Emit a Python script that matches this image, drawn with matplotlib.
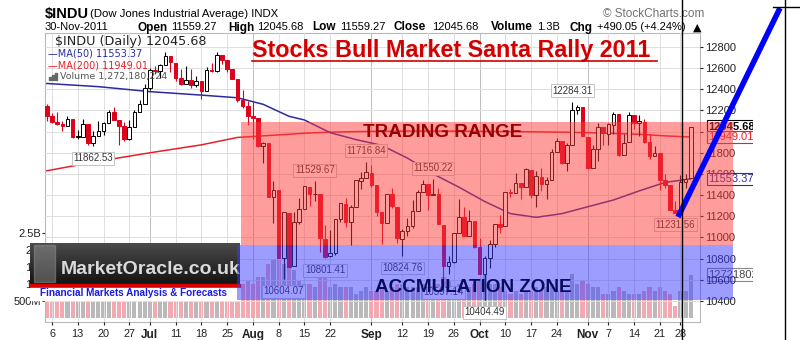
import numpy as np
import pandas as pd
import matplotlib
matplotlib.use('Agg')
import matplotlib.pyplot as plt
from matplotlib.patches import Rectangle
from matplotlib.lines import Line2D
from matplotlib.colors import LinearSegmentedColormap
from matplotlib.transforms import Bbox, blended_transform_factory

plt.rcParams['font.family'] = ['Liberation Sans', 'DejaVu Sans']

# Dow Jones Industrial Average, daily bars 3 Jun - 30 Nov 2011
holidays = ['2011-07-04', '2011-09-05', '2011-11-24']
dates = pd.bdate_range('2011-06-03', '2011-11-30')
dates = dates[~dates.isin(pd.to_datetime(holidays))]

opens = [12245, 12151, 12090, 12069, 12049, 12123, 11953, 11953, 12075, 11897,
         11962, 12003, 12080, 12188, 12109, 12050, 11935, 12043, 12189, 12262,
         12414, 12582, 12569, 12626, 12714, 12651, 12505, 12447, 12491, 12438,
         12479, 12385, 12587, 12572, 12723, 12680, 12593, 12500, 12302, 12239,
         12144, 12130, 11866, 11894, 11384, 11445, 10810, 11229, 10729, 11144,
         11270, 11479, 11407, 11407, 10986, 10820, 10854, 11177, 11318, 11149,
         11285, 11537, 11561, 11613, 11492, 11239, 11141, 11414, 11292, 10990,
         11061, 11105, 11247, 11433, 11508, 11402, 11409, 11121, 10731, 10770,
         11043, 11191, 11010, 11152, 10912, 10650, 10803, 10939, 11124, 11104,
         11431, 11418, 11518, 11479, 11642, 11398, 11575, 11505, 11544, 11807,
         11912, 11708, 11875, 12204, 12228, 11950, 11659, 11836, 12042, 11982,
         12067, 12163, 11781, 11900, 12154, 12079, 12094, 11905, 11770, 11794,
         11546, 11492, 11257, 11232, 11523, 11559.27]
highs = [12264, 12180, 12186, 12101, 12148, 12124, 12017, 12120, 12075, 12009,
         12097, 12094, 12206, 12228, 12110, 12090, 12108, 12201, 12300, 12450,
         12600, 12620, 12643, 12753, 12719, 12651, 12594, 12621, 12596, 12522,
         12479, 12609, 12645, 12751, 12723, 12680, 12593, 12500, 12393, 12293,
         12284, 12130, 11904, 11894, 11537, 11445, 11244, 11229, 11243, 11370,
         11489, 11480, 11529.67, 11407, 11122, 11067, 11177, 11326, 11373, 11305,
         11539, 11620, 11716.84, 11687, 11492, 11239, 11415, 11463, 11292, 11082,
         11183, 11351, 11444, 11545, 11508, 11550.22, 11463, 11121, 10829, 11044,
         11362, 11290, 11264, 11152, 10992, 10827, 10974, 11124, 11209, 11433,
         11461, 11610, 11518, 11652, 11642, 11630, 11656, 11568, 11835, 11938,
         11912, 11888, 12284.31, 12252, 12228, 11950, 11874, 12085, 12042, 12079,
         12181, 12163, 11978, 12188, 12154, 12157, 12118, 11982, 11867, 11794,
         11596, 11492, 11341, 11587, 11597, 12045.68]
lows = [12097, 12083, 12066, 12009, 12049, 11942, 11934, 11953, 11869, 11862.53,
        11962, 11967, 12080, 12109, 11874, 11916, 11924, 12043, 12189, 12262,
        12393, 12545, 12510, 12626, 12566, 12476, 12439, 12447, 12409, 12425,
        12313, 12385, 12564, 12560, 12638, 12563, 12501, 12283, 12225, 12067,
        11935, 11850, 11700, 11384, 11140, 10810, 10604.07, 10720, 10729, 11131,
        11270, 11296, 11340, 10867, 10801.41, 10813, 10835, 11146, 11101, 10929,
        11285, 11454, 11561, 11478, 11205, 10934, 11141, 11276, 10947, 10824.76,
        11015, 11085, 11247, 11433, 11263, 11400, 11124, 10597.14, 10654, 10757,
        11043, 11010, 11010, 10897, 10655, 10404.49, 10715, 10911, 11046, 11104,
        11383, 11418, 11366, 11479, 11377, 11290, 11439, 11362, 11544, 11807,
        11692, 11627, 11875, 12163, 11955, 11651, 11659, 11723, 11869, 11878,
        11973, 11770, 11781, 11900, 12027, 11958, 11893, 11743, 11765, 11448,
        11471, 11257, 11231.56, 11232, 11472, 11559.27]
closes = [12151, 12090, 12071, 12049, 12124, 11952, 11953, 12076, 11897, 11962,
          12004, 12080, 12190, 12110, 12050, 11935, 12044, 12189, 12261, 12414,
          12583, 12570, 12626, 12719, 12657, 12506, 12447, 12492, 12437, 12480,
          12385, 12587, 12572, 12724, 12681, 12593, 12501, 12303, 12240, 12143,
          12132, 11867, 11896, 11384, 11445, 10810, 11240, 10720, 11143, 11269,
          11483, 11406, 11410, 10991, 10818, 10855, 11177, 11321, 11150, 11285,
          11539, 11560, 11614, 11494, 11240, 11139, 11415, 11296, 10992, 11061,
          11106, 11247, 11433, 11509, 11401, 11409, 11125, 10734, 10771, 11044,
          11191, 11011, 11154, 10913, 10655, 10809, 10940, 11123, 11103, 11433,
          11416, 11519, 11478, 11644, 11397, 11577, 11505, 11542, 11809, 11914,
          11707, 11869, 12209, 12231, 11955, 11658, 11836, 12044, 11983, 12068,
          12170, 11781, 11894, 12154, 12079, 12096, 11906, 11771, 11796, 11547,
          11494, 11258, 11232, 11523, 11556, 12045.68]
volume_bn = [0.9, 0.9, 0.9, 0.9, 0.9, 1.0, 0.8, 0.8, 1.0, 1.0,
             1.2, 0.8, 0.8, 0.8, 1.0, 1.1, 0.8, 0.9, 0.9, 1.0,
             0.8, 0.7, 0.8, 0.8, 0.8, 0.9, 0.9, 0.8, 0.9, 0.9,
             0.9, 0.8, 0.8, 0.9, 0.8, 0.8, 0.9, 1.0, 1.0, 1.1,
             1.0, 1.2, 1.2, 1.6, 1.7, 1.8, 1.6, 1.5, 1.4, 1.1,
             1.0, 1.0, 0.9, 1.3, 1.2, 0.9, 1.0, 0.9, 0.9, 0.9,
             0.7, 0.8, 0.9, 0.8, 0.8, 0.9, 0.8, 0.9, 1.0, 1.0,
             0.9, 0.9, 0.9, 1.0, 0.9, 0.9, 1.0, 1.2, 1.1, 0.9,
             1.0, 0.9, 0.9, 1.0, 1.1, 1.3, 1.0, 1.0, 0.9, 0.8,
             0.7, 0.8, 0.7, 0.8, 0.8, 0.9, 0.8, 0.9, 1.0, 0.8,
             0.8, 0.8, 1.3, 1.0, 1.1, 1.0, 0.9, 0.9, 0.7, 0.7,
             0.8, 0.9, 0.8, 0.7, 0.7, 0.7, 0.8, 0.9, 0.8, 0.9,
             0.8, 0.7, 0.35, 0.8, 0.8, 1.272180224]

# moving averages read at weekly points
ma_dates = ['2011-06-03', '2011-06-17', '2011-07-01', '2011-07-18', '2011-07-27',
            '2011-08-03', '2011-08-10', '2011-08-15', '2011-08-22', '2011-08-29',
            '2011-09-06', '2011-09-13', '2011-09-20', '2011-09-27', '2011-10-04',
            '2011-10-11', '2011-10-18', '2011-10-25', '2011-11-01', '2011-11-08',
            '2011-11-15', '2011-11-22', '2011-11-30']
ma50 = [12455, 12425, 12378, 12345, 12320, 12258, 12145, 12110, 11990, 11925,
        11870, 11750, 11600, 11475, 11340, 11225, 11190, 11225, 11290, 11354,
        11440, 11520, 11553.37]
ma200 = [11630, 11720, 11800, 11875, 11945, 11960, 11975, 11985, 11995, 12000,
         12003, 12005, 12005, 12004, 12002, 12000, 11998, 11995, 11990, 11983,
         11975, 11960, 11949.01]

# price call-outs
call_dates = ['2011-06-16', '2011-08-09', '2011-08-17', '2011-08-19', '2011-08-31',
              '2011-09-12', '2011-09-20', '2011-09-22', '2011-10-04', '2011-10-27',
              '2011-11-25']
call_values = [11862.53, 10604.07, 11529.67, 10801.41, 11716.84, 10824.76,
               11550.22, 10597.14, 10404.49, 12284.31, 11231.56]
call_is_high = [False, False, True, False, True, False, True, False, False, True, False]

tick_dates = ['2011-06-06', '2011-06-13', '2011-06-20', '2011-06-27', '2011-07-01',
              '2011-07-11', '2011-07-18', '2011-07-25', '2011-08-01', '2011-08-08',
              '2011-08-15', '2011-08-22', '2011-09-01', '2011-09-12', '2011-09-19',
              '2011-09-26', '2011-10-03', '2011-10-10', '2011-10-17', '2011-10-24',
              '2011-11-01', '2011-11-07', '2011-11-14', '2011-11-21', '2011-11-28']
tick_labels = ['6', '13', '20', '27', 'Jul', '11', '18', '25', 'Aug', '8', '15', '22',
               'Sep', '12', '19', '26', 'Oct', '10', '17', '24', 'Nov', '7', '14',
               '21', '28']
months = ['Jul', 'Aug', 'Sep', 'Oct', 'Nov']

price_ticks = list(range(10400, 12801, 200))
vol_ticks = [0.5, 1.0, 1.5, 2.0, 2.5]
vol_tick_labels = ['500M', '1.0', '1.5', '2.0', '2.5B']

W, H = 800, 340


def fx(x):
    return x / W


def fy(y):
    return 1 - y / H


pos = {d: i for i, d in enumerate(dates)}
xi = np.arange(len(dates))
o, h, l, c = map(np.array, (opens, highs, lows, closes))
up = c >= o

fig = plt.figure(figsize=(8, 3.4), dpi=100)
rect = [fx(45), fy(322), (700 - 45) / W, (322 - 33) / H]

# volume pane sits underneath the candles
axv = fig.add_axes(rect, zorder=0)
axv.bar(xi, volume_bn, width=0.8, color=np.where(up, '#b9b9b9', '#f2a9b1'), linewidth=0)
axv.set_ylim(-0.12, 8.38)
axv.set_xlim(-0.36, 126.8)
axv.set_yticks(vol_ticks)
axv.set_yticklabels(vol_tick_labels)
axv.tick_params(axis='y', labelsize=8, length=2, pad=1, colors='#222222')
axv.set_xticks([])
for s in axv.spines.values():
    s.set_color('#b8b8b8')

ax = fig.add_axes(rect, zorder=1)
ax.patch.set_visible(False)
ax.set_xlim(-0.36, 126.8)
ax.set_ylim(10201, 12932)

tick_pos = [pos[pd.Timestamp(d)] for d in tick_dates]
ax.set_xticks(tick_pos)
ax.set_xticklabels(tick_labels)
for t, lab in zip(ax.get_xticklabels(), tick_labels):
    if lab in months:
        t.set_fontweight('bold')
        t.set_fontsize(8.5)
    else:
        t.set_fontsize(7.8)
ax.tick_params(axis='x', length=2, pad=3, colors='#222222')
ax.yaxis.tick_right()
ax.set_yticks(price_ticks)
ax.tick_params(axis='y', labelsize=8, length=2, pad=1.5, colors='#222222')
ax.grid(True, color='#dedede', linewidth=0.7)
ax.set_axisbelow(True)
for g, lab in zip(ax.get_xgridlines(), tick_labels):
    if lab in months:
        g.set_color('#bdbdbd')
for s in ax.spines.values():
    s.set_visible(False)

# moving averages
ma_x = [pos[pd.Timestamp(d)] for d in ma_dates]
ax.plot(ma_x, ma200, color='#e8202a', linewidth=1.1, zorder=2)
ax.plot(ma_x, ma50, color='#2b2ba0', linewidth=1.1, zorder=2)

# candles
red = '#e0001b'
ax.vlines(xi[up], l[up], h[up], color='black', linewidth=0.8, zorder=3)
ax.vlines(xi[~up], l[~up], h[~up], color=red, linewidth=0.8, zorder=3)
body_lo = np.minimum(o, c)
body_h = np.maximum(np.abs(c - o), 6)
ax.bar(xi[up], body_h[up], bottom=body_lo[up], width=0.7, facecolor='white',
       edgecolor='black', linewidth=0.7, zorder=4)
ax.bar(xi[~up], body_h[~up], bottom=body_lo[~up], width=0.7, facecolor=red,
       edgecolor=red, linewidth=0.7, zorder=4)

# price call-outs
for d, v, hi in zip(call_dates, call_values, call_is_high):
    ax.annotate(f'{v:.2f}', xy=(pos[pd.Timestamp(d)], v),
                xytext=(0, 11 if hi else -12), textcoords='offset pixels',
                ha='center', va='center', fontsize=7, color='#333333', zorder=5,
                bbox=dict(boxstyle='square,pad=0.15', fc='white', ec='#c4c4c4', lw=0.7))

# last-value tags on the right
clip = Bbox.from_extents(0, 0, 753, H)
tr = blended_transform_factory(ax.transAxes, ax.transData)
trv = blended_transform_factory(axv.transAxes, axv.transData)
tags = [(ax, tr, closes[-1], '#000000', '#000000', 'bold'),
        (ax, tr, ma200[-1], '#e8202a', '#e8202a', 'normal'),
        (ax, tr, ma50[-1], '#2b2ba0', '#2b2ba0', 'normal'),
        (axv, trv, volume_bn[-1], '#444444', '#888888', 'normal')]
for a, t_, val, col, ecol, wt in tags:
    txt = f'{val:.2f}' if a is ax else f'{int(round(val * 1e9))}'
    t = a.text(1.012, val, txt, transform=t_, ha='left', va='center', fontsize=8,
               color=col, fontweight=wt, clip_on=False, zorder=5,
               bbox=dict(boxstyle='square,pad=0.12', fc='white', ec=ecol, lw=0.8))
    t.set_clip_box(clip)
    t.set_clip_on(True)

# header
fig.text(fx(45), fy(14), '$INDU', fontsize=10.5, fontweight='bold', va='center')
fig.text(fx(90), fy(14), '(Dow Jones Industrial Average) INDX', fontsize=8.2, va='center')
fig.text(fx(603), fy(14), '\u00a9 StockCharts.com', fontsize=8.5, color='#707070', va='center')
fig.text(fx(45), fy(27.5), '30-Nov-2011', fontsize=8, va='center')
quote = [(138, 'Open', 'bold'), (171, '11559.27', 'normal'), (228, 'High', 'bold'),
         (257, '12045.68', 'normal'), (312, 'Low', 'bold'), (340, '11559.27', 'normal'),
         (393, 'Close', 'bold'), (432, '12045.68', 'normal'), (491, 'Volume', 'bold'),
         (537, '1.3B', 'normal'), (570, 'Chg', 'bold'), (597, '+490.05 (+4.24%)', 'normal'),
         (693, '\u25b2', 'normal')]
for x, s, wt in quote:
    fig.text(fx(x), fy(27.5), s, fontsize=8.5 if wt == 'bold' else 8, fontweight=wt,
             va='center', family=['DejaVu Sans'] if s == '\u25b2' else None)

# legend block inside the chart
fig.text(fx(55), fy(42), '$INDU (Daily) 12045.68', fontsize=9.2, family='DejaVu Sans',
         va='center', color='#222222')
fig.text(fx(48), fy(54), '\u2014MA(50) 11553.37', fontsize=7, family='DejaVu Sans',
         va='center', color='#2b2ba0')
fig.text(fx(48), fy(65.5), '\u2014MA(200) 11949.01', fontsize=7, family='DejaVu Sans',
         va='center', color='#e8202a')
fig.text(fx(60), fy(77), 'Volume 1,272,180,224', fontsize=6.8, family='DejaVu Sans',
         va='center', color='#555555')
for k, hh in enumerate([3, 5, 7]):
    fig.patches.append(Rectangle((fx(49 + k * 3), fy(80)), 2 / W, hh / H,
                                 transform=fig.transFigure, color='#666666'))

# title
fig.text(fx(252), fy(51), 'Stocks Bull Market Santa Rally 2011', fontsize=16.8,
         fontweight='bold', color='#d40000', va='center')
fig.lines.append(Line2D([fx(252), fx(657)], [fy(61), fy(61)], transform=fig.transFigure,
                        color='#d40000', linewidth=1.2))

# MarketOracle banner
logo = fig.add_axes([fx(30), fy(284), 210 / W, 41 / H], zorder=3)
logo.imshow(np.linspace(0, 1, 50)[:, None],
            cmap=LinearSegmentedColormap.from_list('lg', ['#4c4c4c', '#141414']),
            aspect='auto', extent=(0, 1, 0, 1))
logo.set_axis_off()
logo.add_patch(Rectangle((0.02, 0.06), 0.1, 0.88, color='#9a9a9a', alpha=0.45))
fig.text(fx(61), fy(269), 'MarketOracle.co.uk', fontsize=14, fontweight='bold',
         color='#dadada', va='center', zorder=4)
fig.patches.append(Rectangle((fx(30), fy(288)), 210 / W, 4 / H, transform=fig.transFigure,
                             color='#dd0000', zorder=3.5))
fig.patches.append(Rectangle((fx(30), fy(300)), 210 / W, 12 / H, transform=fig.transFigure,
                             color='white', zorder=3.5))
fig.text(fx(134), fy(293.5), 'Financial Markets Analysis & Forecasts', fontsize=7.2,
         fontweight='bold', color='#1a1ae8', ha='center', va='center', zorder=4)

# trading range and accumulation zone overlays
fig.patches.append(Rectangle((fx(241), fy(245)), (733 - 241) / W, (245 - 122) / H,
                             transform=fig.transFigure, color='#ff3c3c', alpha=0.5,
                             lw=0, zorder=5))
fig.patches.append(Rectangle((fx(237), fy(300)), (733 - 237) / W, (300 - 245) / H,
                             transform=fig.transFigure, color='#3c3cff', alpha=0.5,
                             lw=0, zorder=5))
fig.text(fx(443), fy(133), 'TRADING RANGE', fontsize=13.6, fontweight='bold',
         color='#9a0000', ha='center', va='center', zorder=6)
fig.text(fx(473), fy(287), 'ACCMULATION ZONE', fontsize=13.6, fontweight='bold',
         color='#0a0a5e', ha='center', va='center', zorder=6)

# breakout arrow line and cursor lines
fig.lines.append(Line2D([fx(678), fx(780)], [fy(217), fy(8)], transform=fig.transFigure,
                        color='#0000ff', linewidth=4, solid_capstyle='butt', zorder=8))
for x in (682, 784.5):
    fig.lines.append(Line2D([fx(x), fx(x)], [0, 1], transform=fig.transFigure,
                            color='black', linewidth=1, zorder=8))
fig.lines.append(Line2D([fx(773), 1], [fy(7), fy(7)], transform=fig.transFigure,
                        color='black', linewidth=1, zorder=8))

fig.savefig('out.png', dpi=100)
